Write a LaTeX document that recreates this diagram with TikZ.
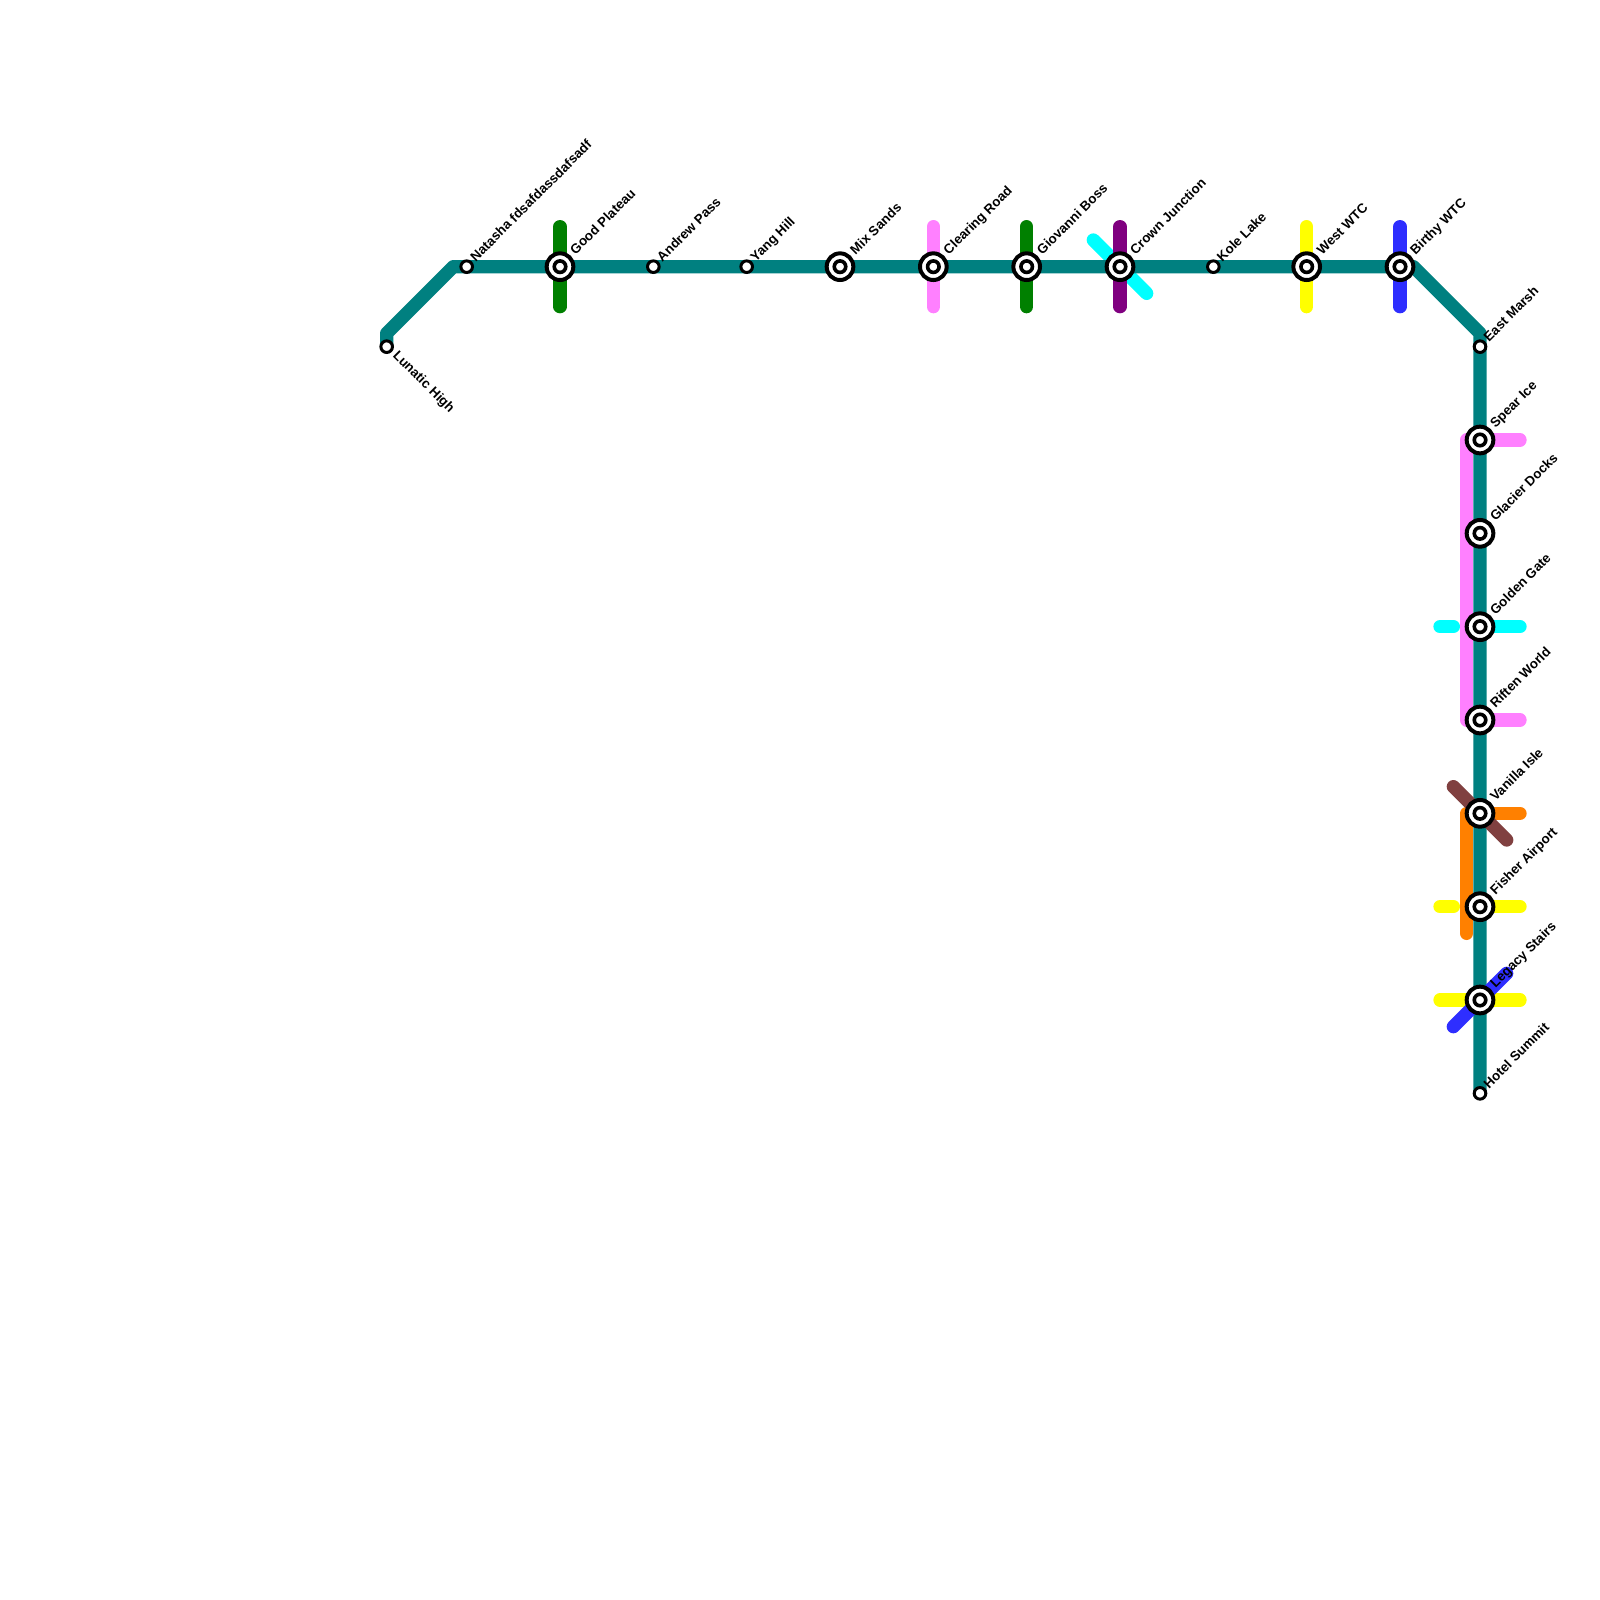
\documentclass[tikz,border=0pt]{standalone}
\usepackage{fontspec}
\setmainfont{Liberation Sans}
\usetikzlibrary{calc,backgrounds}
\definecolor{lteal}{HTML}{008080}
\definecolor{lgreen}{HTML}{008000}
\definecolor{lpink}{HTML}{FF80FF}
\definecolor{lpurple}{HTML}{800080}
\definecolor{lcyan}{HTML}{00FFFF}
\definecolor{lyellow}{HTML}{FFFF00}
\definecolor{lblue}{HTML}{2E2EFF}
\definecolor{lorange}{HTML}{FF8000}
\definecolor{lbrown}{HTML}{804040}
\tikzset{
  lineseg/.style={line width=13.33pt,line cap=round,line join=round},
  bigring/.style={circle,draw=black,fill=white,line width=4pt,minimum size=26.67pt,inner sep=0pt,outer sep=0pt},
  midring/.style={circle,draw=black,fill=white,line width=3.6pt,minimum size=11.5pt,inner sep=0pt,outer sep=0pt},
  smallring/.style={circle,draw=black,fill=white,line width=3pt,minimum size=11.6pt,inner sep=0pt,outer sep=0pt},
  stationlabel/.style={anchor=base west,inner sep=0pt,rotate=45,font=\bfseries\fontsize{13.33pt}{15pt}\selectfont,text=black},
}
% big station: name, x, y, label
\newcommand{\bigstn}[4]{%
  \node[bigring] (#1) at (#2,#3) {};
  \node[midring] (#1-inner) at (#1.center) {};
  \node[stationlabel] (#1-label) at ($(#1.center)+(15.5,-11.2)$) {#4};
}
\newcommand{\smallstn}[4]{%
  \node[smallring] (#1) at (#2,#3) {};
  \node[stationlabel] (#1-label) at ($(#1.center)+(9,-4.2)$) {#4};
}
% vertical stub through a station
\newcommand{\vstub}[2]{%
  \coordinate (#1-t) at ($(#1.center)+(0,-40)$);
  \coordinate (#1-b) at ($(#1.center)+(0,40)$);
  \draw[lineseg,#2] (#1-t) -- (#1-b);
}
\begin{document}
\begin{tikzpicture}[x=1pt,y=-1pt]
\pgfdeclarelayer{lines}
\pgfsetlayers{lines,main}
\useasboundingbox (0,0) rectangle (1600,1600);

\smallstn{natasha}{466.67}{266.67}{Natasha fdsafdassdafsadf}
\bigstn{good}{560}{266.67}{Good Plateau}
\smallstn{andrew}{653.33}{266.67}{Andrew Pass}
\smallstn{yang}{746.67}{266.67}{Yang Hill}
\bigstn{mix}{840}{266.67}{Mix Sands}
\bigstn{clearing}{933.33}{266.67}{Clearing Road}
\bigstn{giovanni}{1026.67}{266.67}{Giovanni Boss}
\bigstn{crown}{1120}{266.67}{Crown Junction}
\smallstn{kole}{1213.33}{266.67}{Kole Lake}
\bigstn{west}{1306.67}{266.67}{West WTC}
\bigstn{birthy}{1400}{266.67}{Birthy WTC}
\smallstn{east}{1480}{346.67}{East Marsh}
\bigstn{spear}{1480}{440}{Spear Ice}
\bigstn{glacier}{1480}{533.33}{Glacier Docks}
\bigstn{golden}{1480}{626.67}{Golden Gate}
\bigstn{riften}{1480}{720}{Riften World}
\bigstn{vanilla}{1480}{813.33}{Vanilla Isle}
\bigstn{fisher}{1480}{906.67}{Fisher Airport}
\bigstn{legacy}{1480}{1000}{Legacy Stairs}
\smallstn{hotel}{1480}{1093.33}{Hotel Summit}
\node[smallring] (lunatic) at (386.67,346.67) {};
\node[stationlabel,rotate=-90] (lunatic-label) at ($(lunatic.center)+(5.5,9.5)$) {Lunatic High};

\coordinate (c1) at (386.67,333.33);
\coordinate (c2) at (453.33,266.67);
\coordinate (c3) at (1413.33,266.67);
\coordinate (c4) at (1480,333.33);

\begin{pgfonlayer}{lines}
  \fill[white] (0,0) rectangle (1600,1600);
  % stubs beneath the parallel branches
  \coordinate (golden-l1) at (1440,626.67);
  \coordinate (golden-l2) at (1453.33,626.67);
  \coordinate (golden-r) at (1520,626.67);
  \draw[lineseg,lcyan] (golden-l1) -- (golden-l2);
  \draw[lineseg,lcyan] (golden.center) -- (golden-r);
  \coordinate (fisher-l1) at (1440,906.67);
  \coordinate (fisher-l2) at (1453.33,906.67);
  \coordinate (fisher-r) at (1520,906.67);
  \draw[lineseg,lyellow] (fisher-l1) -- (fisher-l2);
  \draw[lineseg,lyellow] (fisher.center) -- (fisher-r);
  \coordinate (legacy-l) at (1440,1000);
  \coordinate (legacy-r) at (1520,1000);
  \draw[lineseg,lyellow] (legacy-l) -- (legacy-r);
  % parallel branches
  \coordinate (spear-r) at (1520,440);
  \coordinate (spear-p) at (1466.67,440);
  \coordinate (riften-p) at (1466.67,720);
  \coordinate (riften-r) at (1520,720);
  \draw[lineseg,lpink] (spear-r) -- (spear-p) -- (riften-p) -- (riften-r);
  \coordinate (vanilla-r) at (1520,813.33);
  \coordinate (vanilla-p) at (1466.67,813.33);
  \coordinate (orange-end) at (1466.67,933.33);
  \draw[lineseg,lorange] (vanilla-r) -- (vanilla-p) -- (orange-end);
  % crossing stubs on the top row
  \coordinate (crown-a) at ($(crown.center)+(-26.67,-26.67)$);
  \coordinate (crown-b) at ($(crown.center)+(26.67,26.67)$);
  \draw[lineseg,lcyan] (crown-a) -- (crown-b);
  \vstub{good}{lgreen}
  \vstub{clearing}{lpink}
  \vstub{giovanni}{lgreen}
  \vstub{crown}{lpurple}
  \vstub{west}{lyellow}
  \vstub{birthy}{lblue}
  % main line
  \draw[lineseg,lteal,line cap=butt] (lunatic.center) -- (c1) -- (c2) -- (c3) -- (c4) -- (hotel.center);
  % crossings above the main line
  \coordinate (vanilla-a) at ($(vanilla.center)+(-26.67,-26.67)$);
  \coordinate (vanilla-b) at ($(vanilla.center)+(26.67,26.67)$);
  \draw[lineseg,lbrown] (vanilla-a) -- (vanilla-b);
  \coordinate (legacy-a) at ($(legacy.center)+(26.67,-26.67)$);
  \coordinate (legacy-b) at ($(legacy.center)+(-26.67,26.67)$);
  \draw[lineseg,lblue] (legacy-a) -- (legacy-b);
\end{pgfonlayer}
\end{tikzpicture}
\end{document}
